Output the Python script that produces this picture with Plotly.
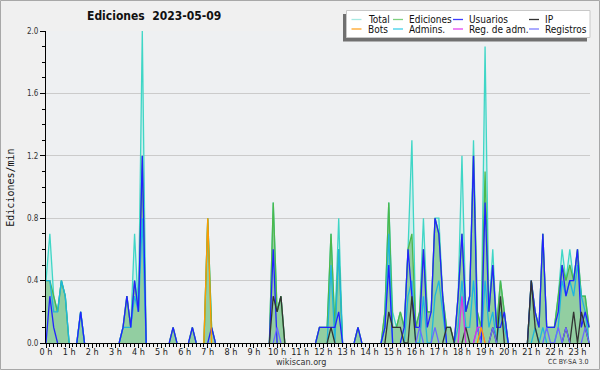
import plotly.graph_objects as go

# ---------------- data (10-minute bins, edits per minute) ----------------
hour_labels = [f"{h} h" for h in range(24)]

total = [
    0.4, 0.7, 0.3, 0.2, 0.4, 0.3,   # 0 h
    0, 0, 0, 0.2, 0, 0,             # 1 h
    0, 0, 0, 0, 0, 0,               # 2 h
    0, 0, 0.1, 0.3, 0.1, 0.7,       # 3 h
    0.2, 2.0, 0, 0, 0, 0,           # 4 h
    0, 0, 0, 0.1, 0, 0,             # 5 h
    0, 0, 0.1, 0, 0, 0,             # 6 h
    0.8, 0.1, 0, 0, 0, 0,           # 7 h
    0, 0, 0, 0, 0, 0,               # 8 h
    0, 0, 0, 0, 0, 0.9,             # 9 h
    0.2, 0.3, 0, 0, 0, 0,           # 10 h
    0, 0, 0, 0, 0, 0.1,             # 11 h
    0.1, 0.1, 0.7, 0.1, 0.8, 0,     # 12 h
    0, 0, 0, 0.1, 0, 0,             # 13 h
    0, 0, 0, 0, 0.2, 0.9,           # 14 h
    0.2, 0.1, 0.2, 0.1, 0.6, 1.3,   # 15 h
    0.1, 0.2, 0.8, 0.2, 0.2, 0.8,   # 16 h
    0.8, 0.3, 0.1, 0.1, 0, 0.3,     # 17 h
    1.2, 0.2, 0.3, 1.3, 0.2, 0.1,   # 18 h
    1.9, 0.2, 0.6, 0.1, 0.4, 0.2,   # 19 h
    0, 0, 0, 0, 0, 0,               # 20 h
    0.4, 0.2, 0.1, 0.7, 0.1, 0.1,   # 21 h
    0.1, 0.3, 0.6, 0.4, 0.6, 0.4,   # 22 h
    0.6, 0.3, 0.3, 0.1,             # 23 h
]

ediciones = [
    0.4, 0.4, 0.3, 0.2, 0.4, 0.3,
    0, 0, 0, 0.2, 0, 0,
    0, 0, 0, 0, 0, 0,
    0, 0, 0.1, 0.3, 0.1, 0.4,
    0.2, 1.2, 0, 0, 0, 0,
    0, 0, 0, 0.1, 0, 0,
    0, 0, 0.1, 0, 0, 0,
    0.8, 0.1, 0, 0, 0, 0,
    0, 0, 0, 0, 0, 0,
    0, 0, 0, 0, 0, 0.9,
    0.2, 0.3, 0, 0, 0, 0,
    0, 0, 0, 0, 0, 0.1,
    0.1, 0.1, 0.7, 0.1, 0.6, 0,
    0, 0, 0, 0.1, 0, 0,
    0, 0, 0, 0, 0.2, 0.9,
    0.1, 0.1, 0.2, 0.1, 0.6, 0.7,
    0.1, 0.2, 0.6, 0.2, 0.2, 0.8,
    0.7, 0.3, 0.1, 0.1, 0, 0.3,
    0.7, 0.2, 0.3, 1.2, 0.2, 0.1,
    1.1, 0.2, 0.5, 0.1, 0.4, 0.2,
    0, 0, 0, 0, 0, 0,
    0.4, 0.2, 0.1, 0.7, 0.1, 0.1,
    0.1, 0.3, 0.5, 0.4, 0.5, 0.4,
    0.6, 0.3, 0.3, 0.1,
]

usuarios = [
    0, 0.3, 0.1, 0, 0, 0,
    0, 0, 0, 0.2, 0, 0,
    0, 0, 0, 0, 0, 0,
    0, 0, 0.1, 0.3, 0.1, 0.4,
    0.2, 1.2, 0, 0, 0, 0,
    0, 0, 0, 0.1, 0, 0,
    0, 0, 0.1, 0, 0, 0,
    0, 0.1, 0, 0, 0, 0,
    0, 0, 0, 0, 0, 0,
    0, 0, 0, 0, 0, 0.6,
    0, 0, 0, 0, 0, 0,
    0, 0, 0, 0, 0, 0.1,
    0.1, 0.1, 0.1, 0.1, 0.2, 0,
    0, 0, 0, 0.1, 0, 0,
    0, 0, 0, 0, 0.1, 0.5,
    0, 0, 0, 0.1, 0.6, 0.3,
    0.1, 0.1, 0.6, 0.1, 0.2, 0.8,
    0.7, 0.3, 0, 0, 0, 0.3,
    0.7, 0.2, 0.3, 1.2, 0.1, 0,
    0.9, 0.2, 0.5, 0.1, 0.1, 0.2,
    0, 0, 0, 0, 0, 0,
    0.4, 0.2, 0.1, 0.7, 0.1, 0.1,
    0.1, 0.2, 0.5, 0.3, 0.4, 0.4,
    0.6, 0.1, 0.2, 0.1,
]

ip = [
    0, 0, 0, 0, 0, 0,
    0, 0, 0, 0, 0, 0,
    0, 0, 0, 0, 0, 0,
    0, 0, 0, 0, 0, 0,
    0, 0, 0, 0, 0, 0,
    0, 0, 0, 0, 0, 0,
    0, 0, 0, 0, 0, 0,
    0, 0, 0, 0, 0, 0,
    0, 0, 0, 0, 0, 0,
    0, 0, 0, 0, 0, 0.3,
    0.2, 0.3, 0, 0, 0, 0,
    0, 0, 0, 0, 0, 0,
    0, 0, 0.1, 0, 0, 0,
    0, 0, 0, 0, 0, 0,
    0, 0, 0, 0, 0, 0.2,
    0.1, 0.1, 0.1, 0, 0, 0.3,
    0, 0, 0, 0, 0, 0,
    0, 0, 0.1, 0.1, 0, 0,
    0, 0.1, 0, 0, 0, 0,
    0, 0, 0.1, 0, 0.3, 0,
    0, 0, 0, 0, 0, 0,
    0.4, 0.1, 0, 0, 0, 0,
    0, 0, 0, 0.1, 0, 0.2,
    0, 0.2, 0.1, 0,
]

admins = [
    0.4, 0.4, 0.2, 0.2, 0.4, 0.3,
    0, 0, 0, 0.2, 0, 0,
    0, 0, 0, 0, 0, 0,
    0, 0, 0.1, 0.1, 0.1, 0.3,
    0.2, 0.8, 0, 0, 0, 0,
    0, 0, 0, 0, 0, 0,
    0, 0, 0, 0, 0, 0,
    0, 0, 0, 0, 0, 0,
    0, 0, 0, 0, 0, 0,
    0, 0, 0, 0, 0, 0,
    0, 0, 0, 0, 0, 0,
    0, 0, 0, 0, 0, 0,
    0, 0, 0.5, 0, 0.6, 0,
    0, 0, 0, 0, 0, 0,
    0, 0, 0, 0, 0.1, 0.7,
    0, 0, 0, 0, 0.3, 0.4,
    0, 0, 0.3, 0, 0, 0.3,
    0.4, 0.2, 0, 0, 0, 0.1,
    0.4, 0.1, 0.1, 0.4, 0.1, 0,
    0.4, 0.1, 0.2, 0, 0.2, 0.1,
    0, 0, 0, 0, 0, 0,
    0, 0.1, 0, 0.1, 0, 0,
    0, 0.1, 0.4, 0.3, 0.4, 0.3,
    0.5, 0.3, 0.2, 0,
]

registros = [0] * 60 + [0.1] + [0] * 36 + [0.1, 0, 0, 0, 0.1] + [0] * 10 + [0.1, 0, 0, 0, 0.1] + [0] * 13 + [0.1, 0, 0, 0.1, 0, 0.1, 0, 0, 0, 0, 0.1, 0]
reg_adm = [0] * 108 + [0.3, 0, 0, 0, 0.1, 0.1] + [0] * 28
bots = [0] * 42 + [0.8] + [0] * 70 + [0.1] + [0] * 28

n = len(total)
t = [i / 6 for i in range(n)]   # hours


def hide_flat_zeros(vals):
    """Keep zeros next to a non-zero value (spike feet), drop runs lying on the axis."""
    out = []
    for i, v in enumerate(vals):
        prev_v = vals[i - 1] if i > 0 else 0
        next_v = vals[i + 1] if i < len(vals) - 1 else 0
        out.append(v if (v != 0 or prev_v != 0 or next_v != 0) else None)
    return out


# ---------------- layout geometry ----------------
W, H = 600, 370
L, R, T, B = 46, 10, 31, 27
PW, PH = W - L - R, H - T - B


def pxx(x):
    return (x - L) / PW


def pxy(y):
    return (H - B - y) / PH


FONT = "DejaVu Sans Condensed, DejaVu Sans, sans-serif"

fig = go.Figure()


def add_line(y, color, fill=None, fillcolor=None, width=1.3):
    fig.add_trace(go.Scatter(
        x=t, y=hide_flat_zeros(y), mode="lines", line=dict(color=color, width=width),
        fill=fill, fillcolor=fillcolor, connectgaps=False,
        hoverinfo="skip", showlegend=False))


add_line(total, "#3fd6c6", fill="tozeroy", fillcolor="rgba(180,236,232,0.55)")
add_line(ediciones, "#4cb84c", fill="tozeroy", fillcolor="rgba(110,185,115,0.62)")
add_line(admins, "#1fb6de")
add_line(usuarios, "#2222ff")
add_line(ip, "#333333")
add_line(registros, "#6a6aff")
add_line(reg_adm, "#d535e5")
add_line(bots, "#ff9a00")

shapes = []
annotations = []

# outer frame
shapes.append(dict(type="rect", xref="paper", yref="paper",
                   x0=pxx(0.5), x1=pxx(599.5), y0=pxy(369.5), y1=pxy(0.5),
                   line=dict(color="#a8a8a8", width=1), layer="above"))

# legend box with shadow
shapes.append(dict(type="rect", xref="paper", yref="paper",
                   x0=pxx(343), x1=pxx(587), y0=pxy(41.5), y1=pxy(14),
                   line=dict(width=0), fillcolor="#707070", layer="above"))
shapes.append(dict(type="rect", xref="paper", yref="paper",
                   x0=pxx(346.5), x1=pxx(590), y0=pxy(37.5), y1=pxy(10.5),
                   line=dict(color="#c8c8c8", width=1), fillcolor="white", layer="above"))

legend_items = [
    ("Total", "#a6e9e2", 351.5, 19.5), ("Ediciones", "#7fd07f", 393, 19.5),
    ("Usuarios", "#3c3cff", 453, 19.5), ("IP", "#333333", 529, 19.5),
    ("Bots", "#ffa526", 351.5, 29), ("Admins.", "#3ed0ea", 393, 29),
    ("Reg. de adm.", "#e444f0", 453, 29), ("Registros", "#7c7cff", 529, 29),
]
for name, col, lx, ly in legend_items:
    shapes.append(dict(type="line", xref="paper", yref="paper",
                       x0=pxx(lx), x1=pxx(lx + 10), y0=pxy(ly), y1=pxy(ly),
                       line=dict(color=col, width=1.3), layer="above"))
    annotations.append(dict(text=name, xref="paper", yref="paper",
                            x=pxx(lx + 14), y=pxy(ly), xanchor="left", yanchor="middle",
                            showarrow=False, font=dict(family=FONT, size=10, color="#111")))

# title
annotations.append(dict(text="<b>Ediciones\u00a0 2023-05-09</b>", xref="paper", yref="paper",
                        x=pxx(154), y=pxy(16.5), xanchor="center", yanchor="middle",
                        showarrow=False, font=dict(family=FONT, size=12, color="#111")))
# y axis title
annotations.append(dict(text="Ediciones/min", xref="paper", yref="paper",
                        x=pxx(9.7), y=pxy(188), xanchor="center", yanchor="middle",
                        textangle=-90, showarrow=False,
                        font=dict(family="DejaVu Sans Mono, monospace", size=10, color="#111")))
# footer
annotations.append(dict(text="wikiscan.org", xref="paper", yref="paper",
                        x=pxx(300.5), y=pxy(362), xanchor="center", yanchor="middle",
                        showarrow=False, font=dict(family=FONT, size=9, color="#333")))
annotations.append(dict(text="CC BY-SA 3.0", xref="paper", yref="paper",
                        x=pxx(589.5), y=pxy(362), xanchor="right", yanchor="middle",
                        showarrow=False, font=dict(family=FONT, size=7, color="#333")))

fig.update_layout(
    width=W, height=H, margin=dict(l=L, r=R, t=T, b=B, autoexpand=False),
    paper_bgcolor="#f0f0f0", plot_bgcolor="#eef0f2",
    showlegend=False, hovermode=False,
    shapes=shapes, annotations=annotations,
    font=dict(family=FONT, size=9, color="#222"),
)
fig.update_xaxes(
    range=[0, (590 - 45.5) / 23.13], tickmode="array",
    tickvals=list(range(24)), ticktext=hour_labels,
    showgrid=False, zeroline=False, showline=True, linecolor="black", linewidth=1,
    ticks="outside", ticklen=4, tickcolor="black", tickwidth=1,
    tickfont=dict(family=FONT, size=9, color="#222"),
    ticklabelstandoff=-4,
    minor=dict(tick0=0, dtick=1 / 6, ticks="outside", ticklen=3, tickcolor="black", showgrid=False),
)
fig.update_yaxes(
    range=[0, 2.0], tickmode="array",
    tickvals=[0, 0.4, 0.8, 1.2, 1.6, 2.0], ticktext=["0.0", "0.4", "0.8", "1.2", "1.6", "2.0"],
    showgrid=True, gridcolor="#cbcbcb", gridwidth=1, zeroline=False,
    showline=True, linecolor="black", linewidth=1,
    ticks="outside", ticklen=5, tickcolor="black", tickwidth=1,
    tickfont=dict(family=FONT, size=8, color="#333"),
    minor=dict(tick0=0, dtick=0.1, ticks="outside", ticklen=3, tickcolor="black", showgrid=False),
)

fig.write_html("out.html", config={"displayModeBar": False},
               post_script="document.body.style.margin='0';document.body.style.overflow='hidden';")
